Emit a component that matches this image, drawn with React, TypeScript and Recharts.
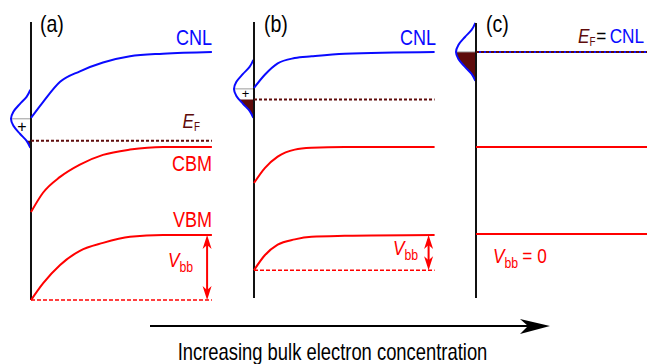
import { Area, ComposedChart, Line, Scatter, XAxis, YAxis } from "recharts";

const W = 647;
const H = 364;
const BLUE = "#0a0aff";
const RED = "#ff0000";
const DARK_RED = "#5e0b0b";
const FONT = "'Liberation Sans', Arial, sans-serif";

// energy axis (bulk VBM = 0), shared by all three panels
const E_MIN = -1.466;
const E_MAX = 2.67;
const DOS_W = 6.67; // depth units taken by the peak of the surface DOS

// (a) low bulk electron concentration
const depthA = [0, 4, 9.7, 16.3, 24, 33, 44, 60.3];
const cnlA = [1.33, 1.51, 1.74, 1.86, 1.96, 2.03, 2.06, 2.08];
const cbmA = [0.26, 0.48, 0.66, 0.8, 0.91, 0.97, 1.0, 1.0];
const vbmA = [-0.74, -0.55, -0.34, -0.18, -0.09, -0.02, 0, 0];

// (b)
const depthB = [0, 3.6, 7.9, 13.6, 19.2, 30.2, 60.2];
const cnlB = [1.67, 1.82, 1.95, 2.01, 2.03, 2.06, 2.08];
const cbmB = [0.59, 0.76, 0.89, 0.97, 0.99, 1.0, 1.0];
const vbmB = [-0.4, -0.23, -0.11, -0.05, -0.02, -0.01, 0];

// (c) flat bands
const depthC = [0, 57];
const cnlC = [2.08, 2.08];
const cbmC = [1.0, 1.0];
const vbmC = [0.01, 0.01];

const fermi = [1.07, 1.54, 2.08];
const dosCenter = [1.32, 1.66, 2.08];

// surface state DOS shape (energy offset from centre, relative density)
const dosOffsets = [-0.33, -0.25, -0.17, -0.08, 0, 0.08, 0.17, 0.25, 0.33];
const dosValues = [0.03, 0.22, 0.55, 0.88, 1, 0.88, 0.55, 0.22, 0.03];

// occupied surface states (below E_F)
const filledG = [
  [0.22, 0.11, 0.03],
  [0.72, 0.55, 0.22, 0.03],
  [1, 0.88, 0.55, 0.22, 0.03],
];
const filledE = [
  [1.07, 1.03, 0.99],
  [1.54, 1.49, 1.41, 1.33],
  [2.08, 2.0, 1.91, 1.83, 1.75],
];

type P = {
  left: number;
  width: number;
  xMax: number;
  depth: number[];
  cnl: number[];
  cbm: number[];
  vbm: number[];
  idx: number;
  surfTop: number;
  surfBottom: number;
  arrowAt?: number;
};

const panels: P[] = [
  { left: 1, width: 212, xMax: 60.67, depth: depthA, cnl: cnlA, cbm: cbmA, vbm: vbmA, idx: 0, surfTop: 2.42, surfBottom: -0.74, arrowAt: 58.7 },
  { left: 224, width: 212, xMax: 60.67, depth: depthB, cnl: cnlB, cbm: cbmB, vbm: vbmB, idx: 1, surfTop: 2.42, surfBottom: -0.716, arrowAt: 58.2 },
  { left: 446, width: 201, xMax: 57, depth: depthC, cnl: cnlC, cbm: cbmC, vbm: vbmC, idx: 2, surfTop: 2.41, surfBottom: -0.716 },
];

const UpHead = (props: any) => {
  const { cx, cy } = props;
  return <path d={`M${cx},${cy} L${cx + 4.5},${cy + 14} L${cx},${cy + 10} L${cx - 4.5},${cy + 14} Z`} fill={RED} />;
};
const DownHead = (props: any) => {
  const { cx, cy } = props;
  return <path d={`M${cx},${cy} L${cx + 4.5},${cy - 14} L${cx},${cy - 10} L${cx - 4.5},${cy - 14} Z`} fill={RED} />;
};

function Panel({ p }: { p: P }) {
  const band = (vals: number[]) => p.depth.map((x, i) => ({ x, e: vals[i] }));
  const end = p.depth[p.depth.length - 1];
  const ef = fermi[p.idx];
  const c = dosCenter[p.idx];
  const dos = dosOffsets.map((d, i) => ({ x: -dosValues[i] * DOS_W, e: c + d }));
  const fill = filledG[p.idx].map((g, i) => ({ x: -g * DOS_W, e: filledE[p.idx][i] }));
  const vbbLow = p.vbm[0];
  const common = { dot: false, activeDot: false, isAnimationActive: false, dataKey: "e" } as const;
  return (
    <div style={{ position: "absolute", left: p.left, top: 0 }}>
      <ComposedChart width={p.width} height={H} margin={{ top: 0, right: 0, bottom: 0, left: 0 }}>
        <XAxis type="number" dataKey="x" domain={[-10, p.xMax]} hide allowDataOverflow />
        <YAxis type="number" dataKey="e" domain={[E_MIN, E_MAX]} hide allowDataOverflow />
        <Line {...common} data={[{ x: -DOS_W, e: c }, { x: 0, e: c }]} type="linear" stroke="#9a9a9a" strokeWidth={1} />
        <Area data={fill} dataKey="e" baseValue={ef} type="monotone" fill={DARK_RED} fillOpacity={1} stroke="none" isAnimationActive={false} />
        <Line {...common} data={dos} type="monotoneY" stroke={BLUE} strokeWidth={2} />
        <Line {...common} data={[{ x: 0, e: p.surfBottom }, { x: 0, e: p.surfTop }]} type="linear" stroke="#111" strokeWidth={2} />
        {p.arrowAt !== undefined && (
          <Line {...common} data={[{ x: 0, e: vbbLow }, { x: end, e: vbbLow }]} type="linear" stroke={RED} strokeWidth={1.5} strokeDasharray="4 2" />
        )}
        <Line {...common} data={band(p.cnl)} type="monotone" stroke={BLUE} strokeWidth={2} />
        <Line {...common} data={band(p.cbm)} type="monotone" stroke={RED} strokeWidth={2} />
        <Line {...common} data={band(p.vbm)} type="monotone" stroke={RED} strokeWidth={2} />
        <Line {...common} data={[{ x: 0, e: ef }, { x: end, e: ef }]} type="linear" stroke={DARK_RED} strokeWidth={2} strokeDasharray="3 2" />
        {p.arrowAt !== undefined && (
          <Line {...common} data={[{ x: p.arrowAt, e: vbbLow + 0.05 }, { x: p.arrowAt, e: -0.05 }]} type="linear" stroke={RED} strokeWidth={2} />
        )}
        {p.arrowAt !== undefined && (
          <Scatter data={[{ x: p.arrowAt, e: p.vbm[p.vbm.length - 1] }]} dataKey="e" shape={UpHead} isAnimationActive={false} />
        )}
        {p.arrowAt !== undefined && (
          <Scatter data={[{ x: p.arrowAt, e: vbbLow }]} dataKey="e" shape={DownHead} isAnimationActive={false} />
        )}
      </ComposedChart>
    </div>
  );
}

function T({ x, y, size, fill = "#000", anchor = "start", sx = 0.82, children }: any) {
  return (
    <text transform={`translate(${x} ${y}) scale(${sx} 1)`} fontSize={size} fill={fill} textAnchor={anchor} fontFamily={FONT}>
      {children}
    </text>
  );
}

export default function App() {
  return (
    <div style={{ position: "absolute", left: 0, top: 0, width: W, height: H, background: "#fff", overflow: "hidden" }}>
      {panels.map((p) => (
        <Panel key={p.idx} p={p} />
      ))}
      <svg width={W} height={H} style={{ position: "absolute", left: 0, top: 0, pointerEvents: "none" }}>
        <T x={40} y={32} size={23} sx={0.85}>(a)</T>
        <T x={264} y={32} size={23} sx={0.85}>(b)</T>
        <T x={486} y={32} size={23} sx={0.85}>(c)</T>

        <T x={212} y={45} size={22} fill={BLUE} anchor="end">CNL</T>
        <T x={436} y={45} size={22} fill={BLUE} anchor="end">CNL</T>

        <T x={182.5} y={128} size={21} fill={DARK_RED}>
          <tspan fontStyle="italic">E</tspan>
          <tspan fontSize={12} dy={3}>F</tspan>
        </T>
        <T x={212} y={171} size={22} fill={RED} anchor="end">CBM</T>
        <T x={212} y={226.5} size={22} fill={RED} anchor="end">VBM</T>
        <T x={168} y={266.5} size={21} fill={RED}>
          <tspan fontStyle="italic">V</tspan>
          <tspan fontSize={15} dy={5}>bb</tspan>
        </T>
        <T x={393} y={255} size={21} fill={RED}>
          <tspan fontStyle="italic">V</tspan>
          <tspan fontSize={15} dy={5}>bb</tspan>
        </T>

        <T x={578} y={43} size={21} fill={DARK_RED}>
          <tspan fontStyle="italic">E</tspan>
          <tspan fontSize={12} dy={3}>F</tspan>
          <tspan dy={-3} dx={1} fill="#000">=</tspan>
          <tspan dx={4} fill={BLUE}>CNL</tspan>
        </T>
        <T x={493} y={263} size={21} fill={RED}>
          <tspan fontStyle="italic">V</tspan>
          <tspan fontSize={15} dy={5}>bb</tspan>
          <tspan dy={-5} dx={5}>=</tspan>
          <tspan dx={6}>0</tspan>
        </T>

        <T x={22} y={132} size={16} anchor="middle" sx={1}>+</T>
        <T x={245.5} y={98} size={13} anchor="middle" sx={1}>+</T>

        <line x1={150} y1={326} x2={530} y2={326} stroke="#000" strokeWidth={2} />
        <path d="M550,326 L520,319 L528,326 L520,334 Z" fill="#000" />
        <T x={332.5} y={360} size={23} anchor="middle" sx={0.8}>Increasing bulk electron concentration</T>
      </svg>
    </div>
  );
}
